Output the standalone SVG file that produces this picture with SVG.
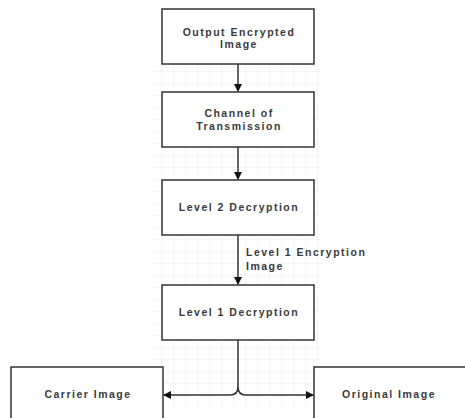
<svg xmlns="http://www.w3.org/2000/svg" width="465" height="418" viewBox="0 0 465 418">
  <defs>
    <pattern id="grid" width="12" height="12" patternUnits="userSpaceOnUse" x="150" y="0">
      <path d="M12,0 V12 M0,12 H12" fill="none" stroke="#ececec" stroke-width="1"/>
    </pattern>
    <marker id="arr" markerWidth="8" markerHeight="8" refX="7" refY="4" orient="auto" markerUnits="userSpaceOnUse">
      <path d="M0,0 L8,4 L0,8 Z" fill="#111"/>
    </marker>
  </defs>
  <style>
    .box { fill: #fff; stroke: #333; stroke-width: 1.5; }
    .t { font-family: "Liberation Sans", Arial, sans-serif; font-size: 10.5px; font-weight: bold; fill: #3a3a3a; text-anchor: middle; letter-spacing: 1.5px; }
    .lbl { font-family: "Liberation Sans", Arial, sans-serif; font-size: 10.5px; font-weight: bold; fill: #3a3a3a; letter-spacing: 1.5px; }
    .c { fill: none; stroke: #333; stroke-width: 1.5; }
  </style>
  <rect width="465" height="418" fill="#fff"/>
  <rect x="150" y="62" width="172" height="345" fill="url(#grid)"/>

  <g id="connectors">
    <path class="c" d="M238,64 V91" marker-end="url(#arr)"/>
    <path class="c" d="M238,147 V179" marker-end="url(#arr)"/>
    <path class="c" d="M238,235 V284" marker-end="url(#arr)"/>
    <path class="c" d="M238,340 V387 Q238,395 230,395 H164" marker-end="url(#arr)"/>
    <path class="c" d="M238,387 Q238,395 246,395 H313" marker-end="url(#arr)"/>
    <text class="lbl" x="246" y="256">Level 1 Encryption</text>
    <text class="lbl" x="246" y="270">Image</text>
  </g>

  <g id="output-encrypted">
    <rect class="box" x="162" y="9" width="152" height="55"/>
    <text class="t" x="239" y="36">Output Encrypted</text>
    <text class="t" x="239" y="48">Image</text>
  </g>
  <g id="channel">
    <rect class="box" x="162" y="92" width="152" height="55"/>
    <text class="t" x="239" y="117">Channel of</text>
    <text class="t" x="239" y="130">Transmission</text>
  </g>
  <g id="level2">
    <rect class="box" x="162" y="180" width="152" height="55"/>
    <text class="t" x="239" y="211">Level 2 Decryption</text>
  </g>
  <g id="level1">
    <rect class="box" x="162" y="285" width="152" height="55"/>
    <text class="t" x="239" y="316">Level 1 Decryption</text>
  </g>
  <g id="carrier">
    <rect class="box" x="11" y="367" width="152" height="60"/>
    <text class="t" x="88" y="398">Carrier Image</text>
  </g>
  <g id="original">
    <rect class="box" x="314" y="367" width="160" height="60"/>
    <text class="t" x="389" y="398">Original Image</text>
  </g>
</svg>
